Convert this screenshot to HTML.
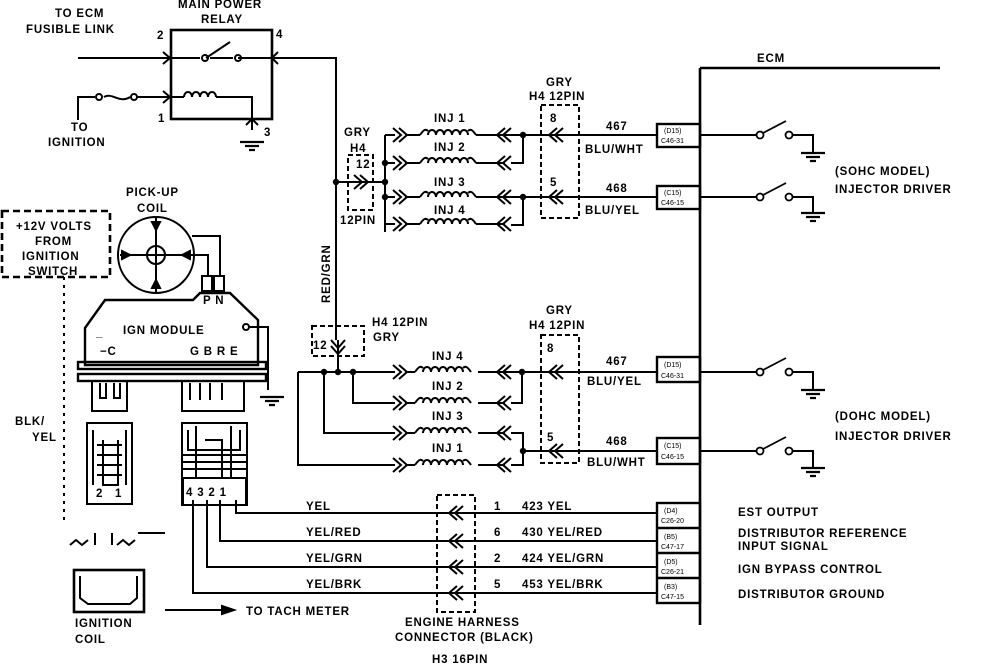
<!DOCTYPE html>
<html><head><style>
html,body{margin:0;padding:0;background:#fff}
svg{display:block}
text{font-family:"Liberation Sans",sans-serif;font-size:11.5px;fill:#000;letter-spacing:0.8px;font-weight:bold}
.s{font-size:7px;letter-spacing:0;font-weight:normal}
</style></head><body>
<svg width="992" height="666" viewBox="0 0 992 666" xmlns="http://www.w3.org/2000/svg">
<defs>
<g id="chev"><path d="M0,-7 L-8,0 L0,7 M6,-7 L-2,0 L6,7" fill="none" stroke="#000" stroke-width="2"/></g>
<g id="chevR"><path d="M0,-7 L8,0 L0,7 M-6,-7 L2,0 L-6,7" fill="none" stroke="#000" stroke-width="2"/></g>
<g id="coil"><path d="M0,0 C4,-6 6,-6 8,-4 M8,0 a4,5 0 1 1 8,0 a4,5 0 1 1 8,0 a4,5 0 1 1 8,0 a4,5 0 1 1 8,0 a4,5 0 1 1 8,0 M48,-4 C50,-6 52,-6 56,0" fill="none" stroke="#000" stroke-width="2"/></g>
<g id="gnd"><path d="M-12,0 H12 M-7,4 H7 M-3,8 H3" stroke="#000" stroke-width="2.2"/></g>
<g id="sw"><circle cx="0" cy="0" r="3.5" fill="#fff" stroke="#000" stroke-width="1.8"/><path d="M3,-2 L26,-14" stroke="#000" stroke-width="1.8"/><circle cx="29" cy="0" r="3.5" fill="#fff" stroke="#000" stroke-width="1.8"/></g>
</defs>
<g stroke="#000" fill="none" stroke-width="2">
<rect x="171" y="30" width="101" height="89" stroke-width="2.6"/>
<path d="M78,58 H171 M171,58 H200 M210,58 H233 M238,58 H272 M272,58 H336 V340"/>
<path d="M206,58 L230,42"/>
<circle cx="205" cy="58" r="3"/><circle cx="238" cy="58" r="3"/>
<path d="M78,120 V97 H95 M104,97 C112,92 120,104 130,97 M136,97 H171 H184"/>
<circle cx="99" cy="97" r="3"/><circle cx="134" cy="97" r="3"/>
<path d="M184,97 a4,5 0 1 1 8,0 a4,5 0 1 1 8,0 a4,5 0 1 1 8,0 a4,5 0 1 1 8,0 M216,97 H252 V130"/>
<path d="M163,52 L170,58 L163,64 M278,52 L272,58 L278,64 M163,91 L170,97 L163,103 M246,125 L252,119 L258,125" stroke-width="2"/>
<use href="#gnd" x="252" y="142"/>
<rect x="348" y="155" width="25" height="55" stroke-dasharray="5,3"/>
<path d="M336,182 H385 M385,135 V232 M385,135 H395 M385,163 H395 M385,197 H395 M385,224 H395"/>
<use href="#chevR" x="360" y="182"/>
<use href="#chevR" x="399" y="135"/><use href="#chevR" x="399" y="163"/><use href="#chevR" x="399" y="197"/><use href="#chevR" x="399" y="224"/>
<path d="M405,135 H420 M405,163 H420 M405,197 H420 M405,224 H420 M476,135 H505 M476,163 H505 M476,197 H505 M476,224 H505"/>
<use href="#coil" x="420" y="135"/><use href="#coil" x="420" y="163"/><use href="#coil" x="420" y="197"/><use href="#coil" x="420" y="224"/>
<use href="#chev" x="505" y="135"/><use href="#chev" x="505" y="163"/><use href="#chev" x="505" y="197"/><use href="#chev" x="505" y="224"/>
<path d="M505,135 H657 M523,135 V163 H511 M505,197 H657 M523,197 V225 H511"/>
<rect x="541" y="105" width="38" height="113" stroke-dasharray="5,3"/>
<use href="#chev" x="557" y="135"/><use href="#chev" x="557" y="197"/>
<path d="M700,68 V625 M700,68 H940" stroke-width="2.6"/>
<rect x="657" y="124" width="43" height="23" stroke-width="2.4"/>
<rect x="657" y="186" width="43" height="23" stroke-width="2.4"/>
<rect x="657" y="357" width="43" height="25" stroke-width="2.4"/>
<rect x="657" y="438" width="43" height="26" stroke-width="2.4"/>
<rect x="657" y="503" width="43" height="100" stroke-width="2.4"/>
<path d="M657,528 H700 M657,553 H700 M657,578 H700" stroke-width="2.4"/>
<path d="M700,135 H757 M790,135 H813 V153 M700,197 H757 M790,197 H813 V213 M700,372 H757 M790,372 H813 V390 M700,451 H757 M790,451 H813 V468"/>
</g>
<use href="#sw" x="760" y="135"/><use href="#sw" x="760" y="197"/><use href="#sw" x="760" y="372"/><use href="#sw" x="760" y="451"/>
<use href="#gnd" x="813" y="153"/><use href="#gnd" x="813" y="213"/><use href="#gnd" x="813" y="390"/><use href="#gnd" x="813" y="468"/>
<g stroke="#000" fill="none" stroke-width="2">
<rect x="312" y="326" width="52" height="30" stroke-dasharray="5,3"/>
<path d="M338,340 V372 M298,372 H395 M298,372 V465 H395 M324,372 V433 H395 M353,372 V403 H395"/>
<use href="#chevR" x="338" y="346" transform="rotate(90 338 346)"/>
<use href="#chevR" x="399" y="372"/><use href="#chevR" x="399" y="403"/><use href="#chevR" x="399" y="433"/><use href="#chevR" x="399" y="465"/>
<path d="M405,372 H415 M405,403 H415 M405,433 H415 M405,465 H415 M478,372 H505 M478,403 H505 M478,433 H505 M478,465 H505"/>
<use href="#coil" x="415" y="372"/><use href="#coil" x="415" y="403"/><use href="#coil" x="415" y="433"/><use href="#coil" x="415" y="465"/>
<use href="#chev" x="505" y="372"/><use href="#chev" x="505" y="403"/><use href="#chev" x="505" y="433"/><use href="#chev" x="505" y="465"/>
<path d="M505,372 H657 M522,372 V403 H511 M523,451 V433 H511 M523,451 V465 H511 M523,451 H657"/>
<rect x="541" y="335" width="38" height="128" stroke-dasharray="5,3"/>
<use href="#chev" x="557" y="372"/><use href="#chev" x="557" y="451"/>
<rect x="437" y="495" width="38" height="117" stroke-dasharray="5,3"/>
<path d="M236,500 V513 H657 M220,500 V541 H657 M207,500 V567 H657 M193,500 V593 H657"/>
<use href="#chev" x="457" y="513"/><use href="#chev" x="457" y="541"/><use href="#chev" x="457" y="567"/><use href="#chev" x="457" y="593"/>
<path d="M165,610 H230"/><path d="M222,606 L234,610 L222,614 Z" fill="#000"/>
<rect x="2" y="211" width="108" height="66" stroke-dasharray="7,4" stroke-width="2.6"/>
<path d="M64,277 V520" stroke-dasharray="3,5"/>
<circle cx="156" cy="255" r="38"/>
<circle cx="156" cy="255" r="9"/>
<path d="M120,255 H192 M156,218 V292 M192,255 H208 V275 M192,236 H220 V275"/>
<path d="M152,222 L156,230 L160,222 Z M152,288 L156,280 L160,288 Z M122,251 L130,255 L122,259 Z M190,251 L182,255 L190,259 Z" fill="#000"/>
<rect x="202" y="276" width="10" height="15"/><rect x="214" y="276" width="10" height="15"/>
<path d="M85,328 L105,300 H193 L200,293 H230 L258,320 V365 H85 Z" stroke-width="2.4"/>
<circle cx="246" cy="327" r="3"/><path d="M249,327 H268 V390"/>
<use href="#gnd" x="272" y="397"/>
<rect x="78" y="362" width="188" height="7" stroke-width="2.4"/>
<rect x="78" y="374" width="188" height="7" stroke-width="2.4"/>
<rect x="92" y="381" width="35" height="30"/><rect x="182" y="381" width="62" height="30"/>
<path d="M100,383 V398 H106 V383 M114,383 V398 H120 V383 M190,383 V400 M200,383 V400 M210,383 V400 M222,383 V400"/>
<rect x="87" y="423" width="45" height="81"/>
<path d="M93,430 V485 M126,430 V485 M97,445 H122 M97,455 H122 M97,465 H122 M97,475 H122 M103,440 V485 H118 V440"/>
<rect x="182" y="423" width="65" height="82"/>
<path d="M188,430 V450 H240 V430 M196,426 V478 H231 V426 M205,440 H222 V478 M183,455 H246 M183,462 H246 M183,469 H246"/>
<rect x="183" y="478" width="63" height="27"/>
<rect x="74" y="570" width="70" height="42" stroke-width="2.6"/>
<path d="M80,576 V598 L88,604 H130 L137,598 V576"/>
<path d="M70,545 L76,540 L82,545 L88,540 M95,533 V545 M112,533 V545 M117,545 L123,540 L129,545 L135,540 M138,533 H165"/>
</g>
<g fill="#000" stroke="none">
<circle cx="336" cy="182" r="3.2"/><circle cx="385" cy="163" r="3.2"/><circle cx="385" cy="182" r="3.2"/><circle cx="385" cy="197" r="3.2"/>
<circle cx="523" cy="135" r="3.2"/><circle cx="523" cy="197" r="3.2"/>
<circle cx="324" cy="372" r="3.2"/><circle cx="338" cy="372" r="3.2"/><circle cx="353" cy="372" r="3.2"/>
<circle cx="522" cy="372" r="3.2"/><circle cx="523" cy="451" r="3.2"/>
</g>
<text x="55" y="17">TO ECM</text>
<text x="26" y="33">FUSIBLE LINK</text>
<text x="178" y="8">MAIN POWER</text>
<text x="201" y="23">RELAY</text>
<text x="157" y="39">2</text><text x="276" y="38">4</text><text x="158" y="122">1</text><text x="264" y="136">3</text>
<text x="71" y="131">TO</text><text x="48" y="146">IGNITION</text>
<text x="344" y="136">GRY</text><text x="350" y="152">H4</text><text x="356" y="168">12</text><text x="340" y="224">12PIN</text>
<text x="434" y="122">INJ 1</text><text x="434" y="151">INJ 2</text><text x="434" y="186">INJ 3</text><text x="434" y="214">INJ 4</text>
<text x="546" y="86">GRY</text><text x="529" y="100">H4 12PIN</text>
<text x="550" y="122">8</text><text x="550" y="186">5</text>
<text x="606" y="130">467</text><text x="585" y="153">BLU/WHT</text>
<text x="606" y="192">468</text><text x="585" y="214">BLU/YEL</text>
<text x="757" y="62">ECM</text>
<text class="s" x="664" y="133">(D15)</text><text class="s" x="661" y="143">C46-31</text>
<text class="s" x="664" y="195">(C15)</text><text class="s" x="661" y="205">C46-15</text>
<text class="s" x="664" y="367">(D15)</text><text class="s" x="661" y="378">C46-31</text>
<text class="s" x="664" y="448">(C15)</text><text class="s" x="661" y="459">C46-15</text>
<text class="s" x="664" y="513">(D4)</text><text class="s" x="661" y="523">C26-20</text>
<text class="s" x="664" y="539">(B5)</text><text class="s" x="661" y="549">C47-17</text>
<text class="s" x="664" y="564">(D5)</text><text class="s" x="661" y="574">C26-21</text>
<text class="s" x="664" y="589">(B3)</text><text class="s" x="661" y="599">C47-15</text>
<text x="835" y="175">(SOHC MODEL)</text><text x="835" y="193">INJECTOR DRIVER</text>
<text x="835" y="420">(DOHC MODEL)</text><text x="835" y="440">INJECTOR DRIVER</text>
<text x="126" y="196">PICK-UP</text><text x="137" y="212">COIL</text>
<text x="16" y="230">+12V VOLTS</text><text x="35" y="245">FROM</text><text x="22" y="260">IGNITION</text><text x="28" y="275">SWITCH</text>
<text x="203" y="304">P N</text>
<text x="96" y="336">_</text><text x="123" y="334">IGN MODULE</text><text x="100" y="355">−C</text><text x="190" y="355">G B R E</text>
<text x="330" y="303" transform="rotate(-90 330 303)">RED/GRN</text>
<text x="372" y="326">H4 12PIN</text><text x="373" y="341">GRY</text><text x="313" y="349">12</text>
<text x="432" y="360">INJ 4</text><text x="432" y="390">INJ 2</text><text x="432" y="420">INJ 3</text><text x="432" y="452">INJ 1</text>
<text x="546" y="314">GRY</text><text x="529" y="329">H4 12PIN</text>
<text x="547" y="352">8</text><text x="547" y="441">5</text>
<text x="606" y="365">467</text><text x="587" y="385">BLU/YEL</text>
<text x="606" y="445">468</text><text x="587" y="466">BLU/WHT</text>
<text x="15" y="425">BLK/</text><text x="32" y="441">YEL</text>
<text x="96" y="497">2</text><text x="115" y="497">1</text>
<text x="186" y="496">4 3 2 1</text>
<text x="306" y="510">YEL</text><text x="306" y="536">YEL/RED</text><text x="306" y="562">YEL/GRN</text><text x="306" y="588">YEL/BRK</text>
<text x="494" y="510">1</text><text x="494" y="536">6</text><text x="494" y="562">2</text><text x="494" y="588">5</text>
<text x="522" y="510">423 YEL</text><text x="522" y="536">430 YEL/RED</text><text x="522" y="562">424 YEL/GRN</text><text x="522" y="588">453 YEL/BRK</text>
<text x="738" y="516">EST OUTPUT</text>
<text x="738" y="537">DISTRIBUTOR REFERENCE</text><text x="738" y="550">INPUT SIGNAL</text>
<text x="738" y="573">IGN BYPASS CONTROL</text>
<text x="738" y="598">DISTRIBUTOR GROUND</text>
<text x="246" y="615">TO TACH METER</text>
<text x="75" y="627">IGNITION</text><text x="75" y="643">COIL</text>
<text x="405" y="626">ENGINE HARNESS</text><text x="395" y="641">CONNECTOR (BLACK)</text>
<text x="432" y="663">H3 16PIN</text>
</svg>
</body></html>
